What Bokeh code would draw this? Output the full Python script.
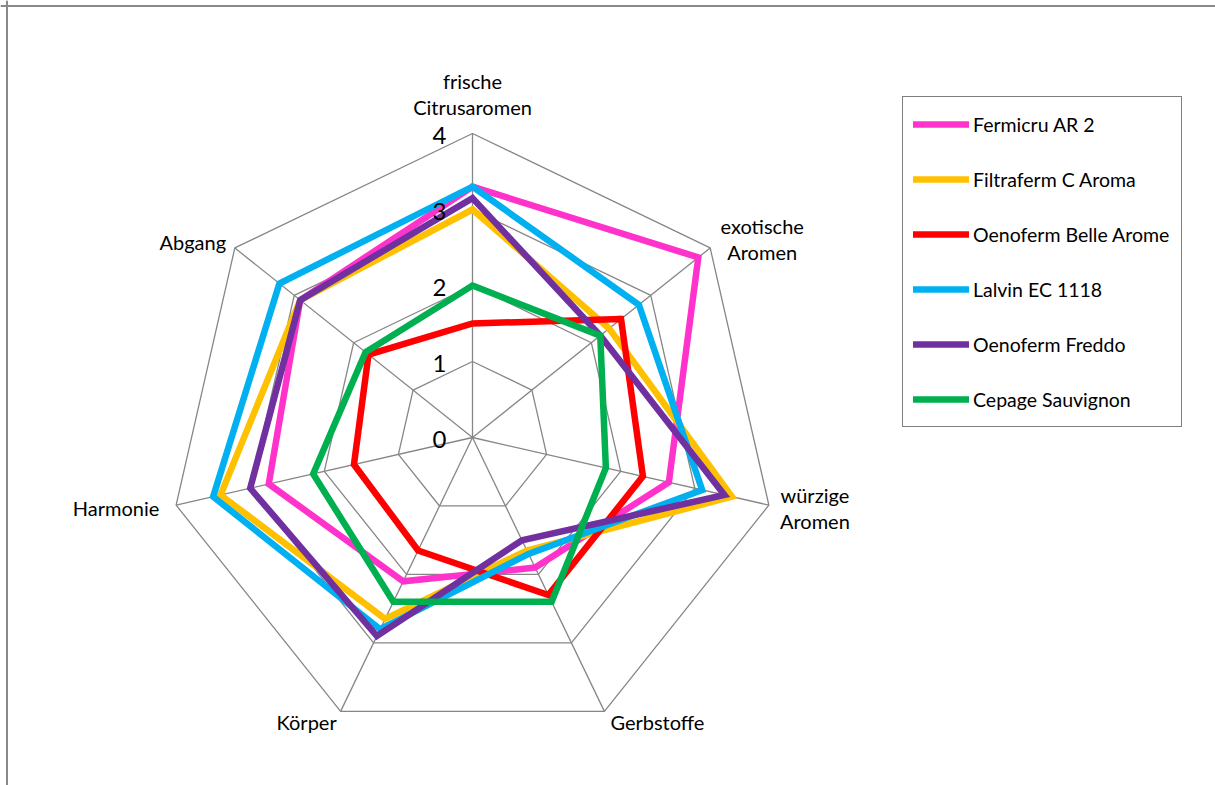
import numpy as np
from bokeh.plotting import figure
from bokeh.models import Range1d, Span, Legend, LegendItem, ColumnDataSource
from bokeh.core.properties import value
from bokeh.embed import file_html
from bokeh.resources import INLINE

# ---------------- data ----------------
categories = ["frische\nCitrusaromen", "exotische\nAromen", "würzige\nAromen",
              "Gerbstoffe", "Körper", "Harmonie", "Abgang"]
series_names = ["Fermicru AR 2", "Filtraferm C Aroma", "Oenoferm Belle Arome",
                "Lalvin EC 1118", "Oenoferm Freddo", "Cepage Sauvignon"]
fermicru = [3.3, 3.8, 2.65, 1.9, 2.1, 2.75, 2.9]
filtraferm = [3.0, 2.3, 3.5, 1.65, 2.65, 3.4, 2.9]
belle_arome = [1.5, 2.5, 2.3, 2.3, 1.65, 1.6, 1.75]
lalvin = [3.3, 2.8, 3.1, 1.7, 2.8, 3.5, 3.25]
freddo = [3.15, 2.15, 3.4, 1.5, 2.9, 3.0, 2.9]
sauvignon = [2.0, 2.15, 1.8, 2.4, 2.4, 2.15, 1.8]
series_values = [fermicru, filtraferm, belle_arome, lalvin, freddo, sauvignon]
series_colors = ["#FF33CC", "#FFC000", "#FF0000", "#00B0F0", "#7030A0", "#00B050"]
ticks = [0, 1, 2, 3, 4]
tick_labels = ["0", "1", "2", "3", "4"]

# ---------------- layout ----------------
W, H = 1215, 785
K = 76.0                 # pixels per unit
CX, CY = 472.0, 437.0    # radar centre inside the frame (px from left / top)
RMAX = ticks[-1]
GRID = "#868686"
FONT = "Lato"

n = len(categories)
theta = np.pi / 2 - np.arange(n) * 2 * np.pi / n
cos_t, sin_t = np.cos(theta), np.sin(theta)

p = figure(width=W, height=H, output_backend="svg", toolbar_location=None,
           x_range=Range1d(-CX / K, (W - CX) / K),
           y_range=Range1d(-(H - CY) / K, CY / K),
           min_border=0, outline_line_color=None)
p.axis.visible = False
p.grid.visible = False
p.background_fill_color = "white"
p.border_fill_color = "white"

# chart-area border (left and top visible in the reference)
p.add_layout(Span(location=(6.5 - CX) / K, dimension="height",
                  line_color="#898989", line_width=2))
p.add_layout(Span(location=(CY - 5.5) / K, dimension="width",
                  line_color="#898989", line_width=2))

# rings
for t in ticks[1:]:
    xs = list(t * cos_t) + [t * cos_t[0]]
    ys = list(t * sin_t) + [t * sin_t[0]]
    p.line(xs, ys, line_color=GRID, line_width=1.3)
# spokes
for i in range(n):
    p.line([0, RMAX * cos_t[i]], [0, RMAX * sin_t[i]], line_color=GRID, line_width=1.3)

# series
items = []
for name, vals, col in zip(series_names, series_values, series_colors):
    v = np.array(vals)
    xs = list(v * cos_t) + [v[0] * cos_t[0], v[1] * cos_t[1]]
    ys = list(v * sin_t) + [v[0] * sin_t[0], v[1] * sin_t[1]]
    r = p.line(xs, ys, line_color=col, line_width=6.5, line_join="miter",
               line_cap="round")
    items.append(LegendItem(label=name, renderers=[r]))

# value tick labels along top spoke (drawn above the series, as in the reference)
p.text(x=[0] * len(ticks), y=ticks, text=tick_labels, x_offset=-26, y_offset=2,
       text_align="right", text_baseline="middle", text_font=value(FONT),
       text_font_size="24px", text_color="black")

# category labels
label_dx = [0, 52, 46, 53, -34, -60, -42]
label_dy = [-40, -9, 3, 11, 11, 3, -6]
line_gap = 26
lx, ly, lt, ox, oy = [], [], [], [], []
for i, cat in enumerate(categories):
    lines = cat.split("\n")
    m = len(lines)
    for j, s in enumerate(lines):
        lx.append(RMAX * cos_t[i])
        ly.append(RMAX * sin_t[i])
        lt.append(s)
        ox.append(label_dx[i])
        oy.append(label_dy[i] + (j - (m - 1) / 2) * line_gap)
src = ColumnDataSource(dict(x=lx, y=ly, text=lt, ox=ox, oy=oy))
p.text(x="x", y="y", text="text", x_offset="ox", y_offset="oy", source=src,
       text_align="center", text_baseline="middle", text_font=value(FONT),
       text_font_size="20px", text_color="black")

# legend
leg_h = 2 * 10 + 6 * 34 + 5 * 21
legend = Legend(items=items, location=(902, H - 98 - leg_h), orientation="vertical",
                glyph_width=56, glyph_height=34, label_height=34, label_width=198,
                spacing=21, padding=10, margin=0, label_standoff=4,
                label_text_font=FONT, label_text_font_size="19.5px",
                label_text_color="black",
                border_line_color="black", border_line_width=1.5,
                background_fill_color="white", background_fill_alpha=1.0)
p.add_layout(legend)

open("out.html", "w").write(file_html(p, INLINE))
